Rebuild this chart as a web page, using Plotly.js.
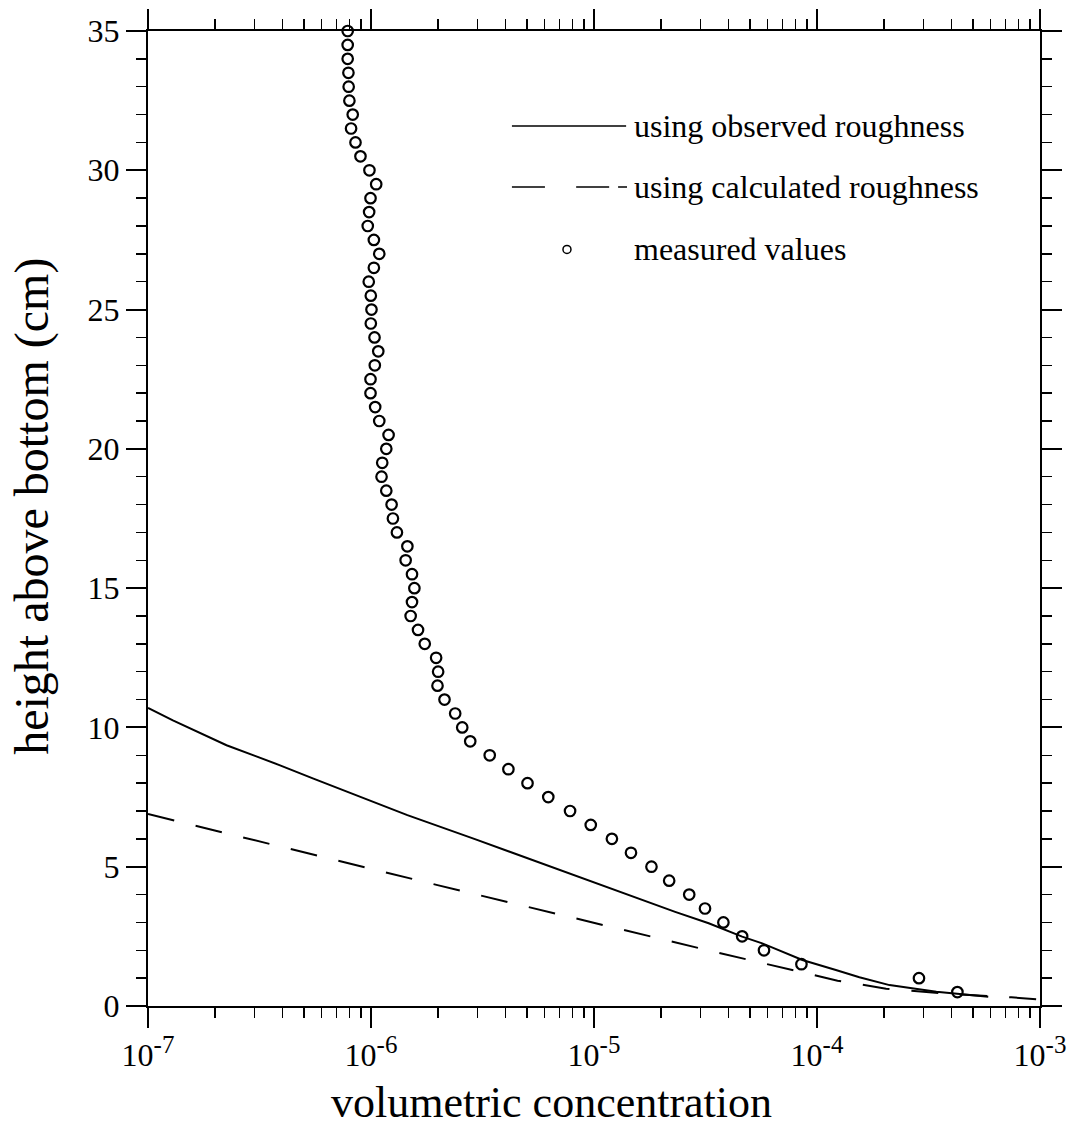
<!DOCTYPE html>
<html>
<head>
<meta charset="utf-8">
<script src="https://cdn.plot.ly/plotly-3.0.1.min.js"></script>
<style>html,body{margin:0;padding:0;background:#fff;}#chart{width:1076px;height:1136px;}</style>
</head>
<body>
<div id="chart"></div>
<script>
// Measured values (circles)
var measuredConc = [7.86e-7,7.86e-7,7.86e-7,7.92e-7,7.94e-7,8.00e-7,8.28e-7,8.14e-7,8.52e-7,8.97e-7,
  9.84e-7,1.055e-6,9.95e-7,9.81e-7,9.67e-7,1.03e-6,1.089e-6,1.03e-6,9.77e-7,9.98e-7,
  1.005e-6,9.98e-7,1.037e-6,1.078e-6,1.040e-6,9.95e-7,9.95e-7,1.044e-6,1.089e-6,1.199e-6,
  1.171e-6,1.123e-6,1.115e-6,1.171e-6,1.237e-6,1.254e-6,1.307e-6,1.456e-6,1.430e-6,1.527e-6,
  1.565e-6,1.527e-6,1.506e-6,1.625e-6,1.742e-6,1.959e-6,2.0e-6,1.987e-6,2.136e-6,2.385e-6,
  2.565e-6,2.786e-6,3.407e-6,4.132e-6,5.033e-6,6.237e-6,7.81e-6,9.67e-6,1.203e-5,1.465e-5,
  1.81e-5,2.173e-5,2.673e-5,3.146e-5,3.804e-5,4.617e-5,5.785e-5,8.515e-5,2.866e-4,4.262e-4];
var measuredHeight = [35,34.5,34,33.5,33,32.5,32,31.5,31,30.5,
  30,29.5,29,28.5,28,27.5,27,26.5,26,25.5,
  25,24.5,24,23.5,23,22.5,22,21.5,21,20.5,
  20,19.5,19,18.5,18,17.5,17,16.5,16,15.5,
  15,14.5,14,13.5,13,12.5,12,11.5,11,10.5,
  10,9.5,9,8.5,8,7.5,7,6.5,6,5.5,
  5,4.5,4,3.5,3,2.5,2,1.5,1,0.5];

// Model using observed roughness (solid)
var observedConc = [1e-7,1.293e-7,2.25e-7,3.91e-7,5.52e-7,8.97e-7,1.456e-6,2.904e-6,5.80e-6,
  1.159e-5,2.312e-5,3.268e-5,4.617e-5,5.68e-5,8.60e-5,1.215e-4,1.549e-4,2.114e-4,3.43e-4,5.86e-4];
var observedHeight = [10.7,10.25,9.36,8.64,8.16,7.50,6.85,6.0,5.12,
  4.26,3.38,2.97,2.49,2.25,1.65,1.29,1.03,0.75,0.51,0.33];

// Model using calculated roughness (dashed)
var calcConc = [1e-7,1.987e-6,3.323e-5,4.385e-5,1.237e-4,2.042e-4,3.553e-4,7.44e-4,9.84e-4];
var calcHeight = [6.89,4.34,1.98,1.75,0.91,0.62,0.46,0.31,0.24];

// Axis ticks
var xTickVals = [1e-7,1e-6,1e-5,1e-4,1e-3];
var xTickExp = ['-7','-6','-5','-4','-3'];
var yTickVals = [0,5,10,15,20,25,30,35];

var legendLabels = ['using observed roughness','using calculated roughness','measured values'];
var xTitle = 'volumetric concentration';
var yTitle = 'height above bottom (cm)';

var FONT = 'Liberation Serif, Times New Roman, serif';

var xTickText = xTickExp.map(function(e){
  return '10<sup><span style="font-size:25px">' + e + '</span></sup>';
});

var traces = [
  {x: observedConc, y: observedHeight, type:'scatter', mode:'lines', line:{color:'#000', width:2},
   showlegend:false, hoverinfo:'skip'},
  {x: calcConc, y: calcHeight, type:'scatter', mode:'lines', line:{color:'#000', width:2, dash:'27px,22px'},
   showlegend:false, hoverinfo:'skip'},
  {x: measuredConc, y: measuredHeight, type:'scatter', mode:'markers', cliponaxis:false,
   marker:{symbol:'circle-open', size:10.5, color:'#000', line:{width:2.2, color:'#000'}},
   showlegend:false, hoverinfo:'skip'}
];

// legend geometry (paper coords)
var ltx = 0.543;
var ly = [0.9026, 0.840, 0.776];
var dashSegs = [[0.408,0.445],[0.480,0.517],[0.527,0.537]];

var shapes = [
  {type:'line', xref:'paper', yref:'paper', x0:0.408, x1:0.536, y0:ly[0], y1:ly[0], line:{color:'#000', width:1.5}},
  {type:'circle', xref:'paper', yref:'paper', xsizemode:'pixel', ysizemode:'pixel',
   xanchor:0.4697, yanchor:ly[2], x0:-4, x1:4, y0:-4, y1:4, line:{color:'#000', width:1.5}}
];
dashSegs.forEach(function(s){
  shapes.push({type:'line', xref:'paper', yref:'paper', x0:s[0], x1:s[1], y0:ly[1], y1:ly[1], line:{color:'#000', width:1.5}});
});

var annotations = legendLabels.map(function(t,i){
  return {text:t, xref:'paper', yref:'paper', x:ltx, y:ly[i], xanchor:'left', yanchor:'middle',
          showarrow:false, font:{family:FONT, size:32, color:'#000'}};
});
annotations.push({text:xTitle, xref:'paper', yref:'paper', x:0.452, y:-0.0985, xanchor:'center', yanchor:'middle',
  showarrow:false, font:{family:FONT, size:44, color:'#000'}});
annotations.push({text:yTitle, xref:'paper', yref:'paper', x:-0.130, y:0.512, xanchor:'center', yanchor:'middle',
  textangle:-90, showarrow:false, font:{family:FONT, size:48, color:'#000'}});

var layout = {
  width:1076, height:1136,
  margin:{l:148, r:36, t:31, b:130},
  paper_bgcolor:'#fff', plot_bgcolor:'#fff',
  font:{family:FONT, color:'#000', size:31},
  showlegend:false,
  xaxis:{type:'log', range:[-7,-3], tickvals:xTickVals, ticktext:xTickText,
    ticks:'outside', ticklen:20, tickwidth:2, tickcolor:'#000',
    minor:{ticks:'outside', ticklen:10, tickwidth:1.5, tickcolor:'#000', dtick:'D1', showgrid:false},
    showline:true, linecolor:'#000', linewidth:2, mirror:'ticks',
    showgrid:false, zeroline:false,
    tickfont:{family:FONT, size:32, color:'#000'}},
  yaxis:{range:[0,35], tickvals:yTickVals,
    ticks:'outside', ticklen:20, tickwidth:2, tickcolor:'#000',
    minor:{ticks:'outside', ticklen:10, tickwidth:1.5, tickcolor:'#000', dtick:1, showgrid:false},
    showline:true, linecolor:'#000', linewidth:2, mirror:'ticks',
    showgrid:false, zeroline:false,
    tickfont:{family:FONT, size:32, color:'#000'}},
  shapes:shapes,
  annotations:annotations
};

Plotly.newPlot('chart', traces, layout, {staticPlot:true, displayModeBar:false});
</script>
</body>
</html>
